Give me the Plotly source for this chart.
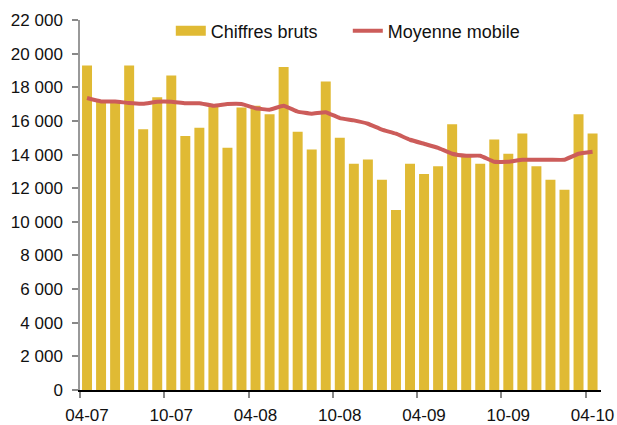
import plotly.graph_objects as go

months = [f"{m:02d}-{y:02d}" for y, m in
          [(7, 4), (7, 5), (7, 6), (7, 7), (7, 8), (7, 9), (7, 10), (7, 11), (7, 12),
           (8, 1), (8, 2), (8, 3), (8, 4), (8, 5), (8, 6), (8, 7), (8, 8), (8, 9), (8, 10), (8, 11), (8, 12),
           (9, 1), (9, 2), (9, 3), (9, 4), (9, 5), (9, 6), (9, 7), (9, 8), (9, 9), (9, 10), (9, 11), (9, 12),
           (10, 1), (10, 2), (10, 3), (10, 4)]]

chiffres_bruts = [19300, 17150, 17250, 19300, 15500, 17400, 18700, 15100, 15600,
                  16900, 14400, 16800, 16900, 16400, 19200, 15350, 14300, 18350,
                  15000, 13450, 13700, 12500, 10700, 13450, 12850, 13300, 15800,
                  13900, 13450, 14900, 14050, 15250, 13300, 12500, 11900, 16400, 15250]

moyenne_mobile = [17360, 17160, 17160, 17060, 17020, 17140, 17140, 17050, 17050,
                  16900, 17000, 17000, 16750, 16670, 16900, 16550, 16430, 16520,
                  16170, 16030, 15830, 15480, 15240, 14880, 14640, 14400, 14050,
                  13930, 13930, 13570, 13570, 13690, 13690, 13690, 13690, 14050, 14170]

tick_labels = ["04-07", "10-07", "04-08", "10-08", "04-09", "10-09", "04-10"]
y_ticks = list(range(0, 22001, 2000))

BAR_COLOR = "#E0BA34"
LINE_COLOR = "#CC5C5A"

idx = list(range(len(months)))
tick_pos = [i - 0.5 for i, m in enumerate(months) if m in tick_labels]

fig = go.Figure()
fig.add_trace(go.Bar(x=idx, y=chiffres_bruts, name="Chiffres bruts", showlegend=False,
                     marker=dict(color=BAR_COLOR, line=dict(width=0))))
# legend-only entry giving a wide rectangular swatch for the bars
fig.add_trace(go.Scatter(x=[None], y=[None], name="Chiffres bruts", mode="lines",
                         line=dict(color=BAR_COLOR, width=16)))
fig.add_trace(go.Scatter(x=idx, y=moyenne_mobile, name="Moyenne mobile", mode="lines",
                         line=dict(color=LINE_COLOR, width=4, shape="spline", smoothing=0.3)))

fig.update_layout(
    width=617, height=425,
    margin=dict(l=80, r=16, t=20, b=35),
    plot_bgcolor="white", paper_bgcolor="white",
    separators=", ",
    bargap=0.29,
    font=dict(family="Liberation Sans, Arial, sans-serif", size=17, color="#111111"),
    showlegend=True,
    legend=dict(orientation="h", x=0.514, xanchor="center", y=0.970, yanchor="middle",
                bgcolor="rgba(0,0,0,0)", font=dict(size=18), itemwidth=30,
                entrywidth=132, entrywidthmode="pixels",
                traceorder="normal"),
)
fig.update_xaxes(range=[-0.5, 36.6], tickmode="array", tickvals=tick_pos, ticktext=tick_labels,
                 ticks="outside", ticklen=6, tickcolor="#888888", tickwidth=1.5,
                 ticklabelshift=7, ticklabelstandoff=3, ticklabeloverflow="allow",
                 automargin=False, showgrid=False, zeroline=False,
                 showline=True, linecolor="#000000", linewidth=1.5)
fig.update_yaxes(range=[0, 22000], tickmode="array", tickvals=y_ticks, tickformat=",d",
                 ticks="outside", ticklen=6, tickcolor="#888888", tickwidth=1.5,
                 ticklabelstandoff=6, automargin=False,
                 showgrid=False, zeroline=False,
                 showline=True, linecolor="#999999", linewidth=1.5)

fig.write_html("out.html", config={"displayModeBar": False},
               post_script="document.body.style.margin='0px';")
